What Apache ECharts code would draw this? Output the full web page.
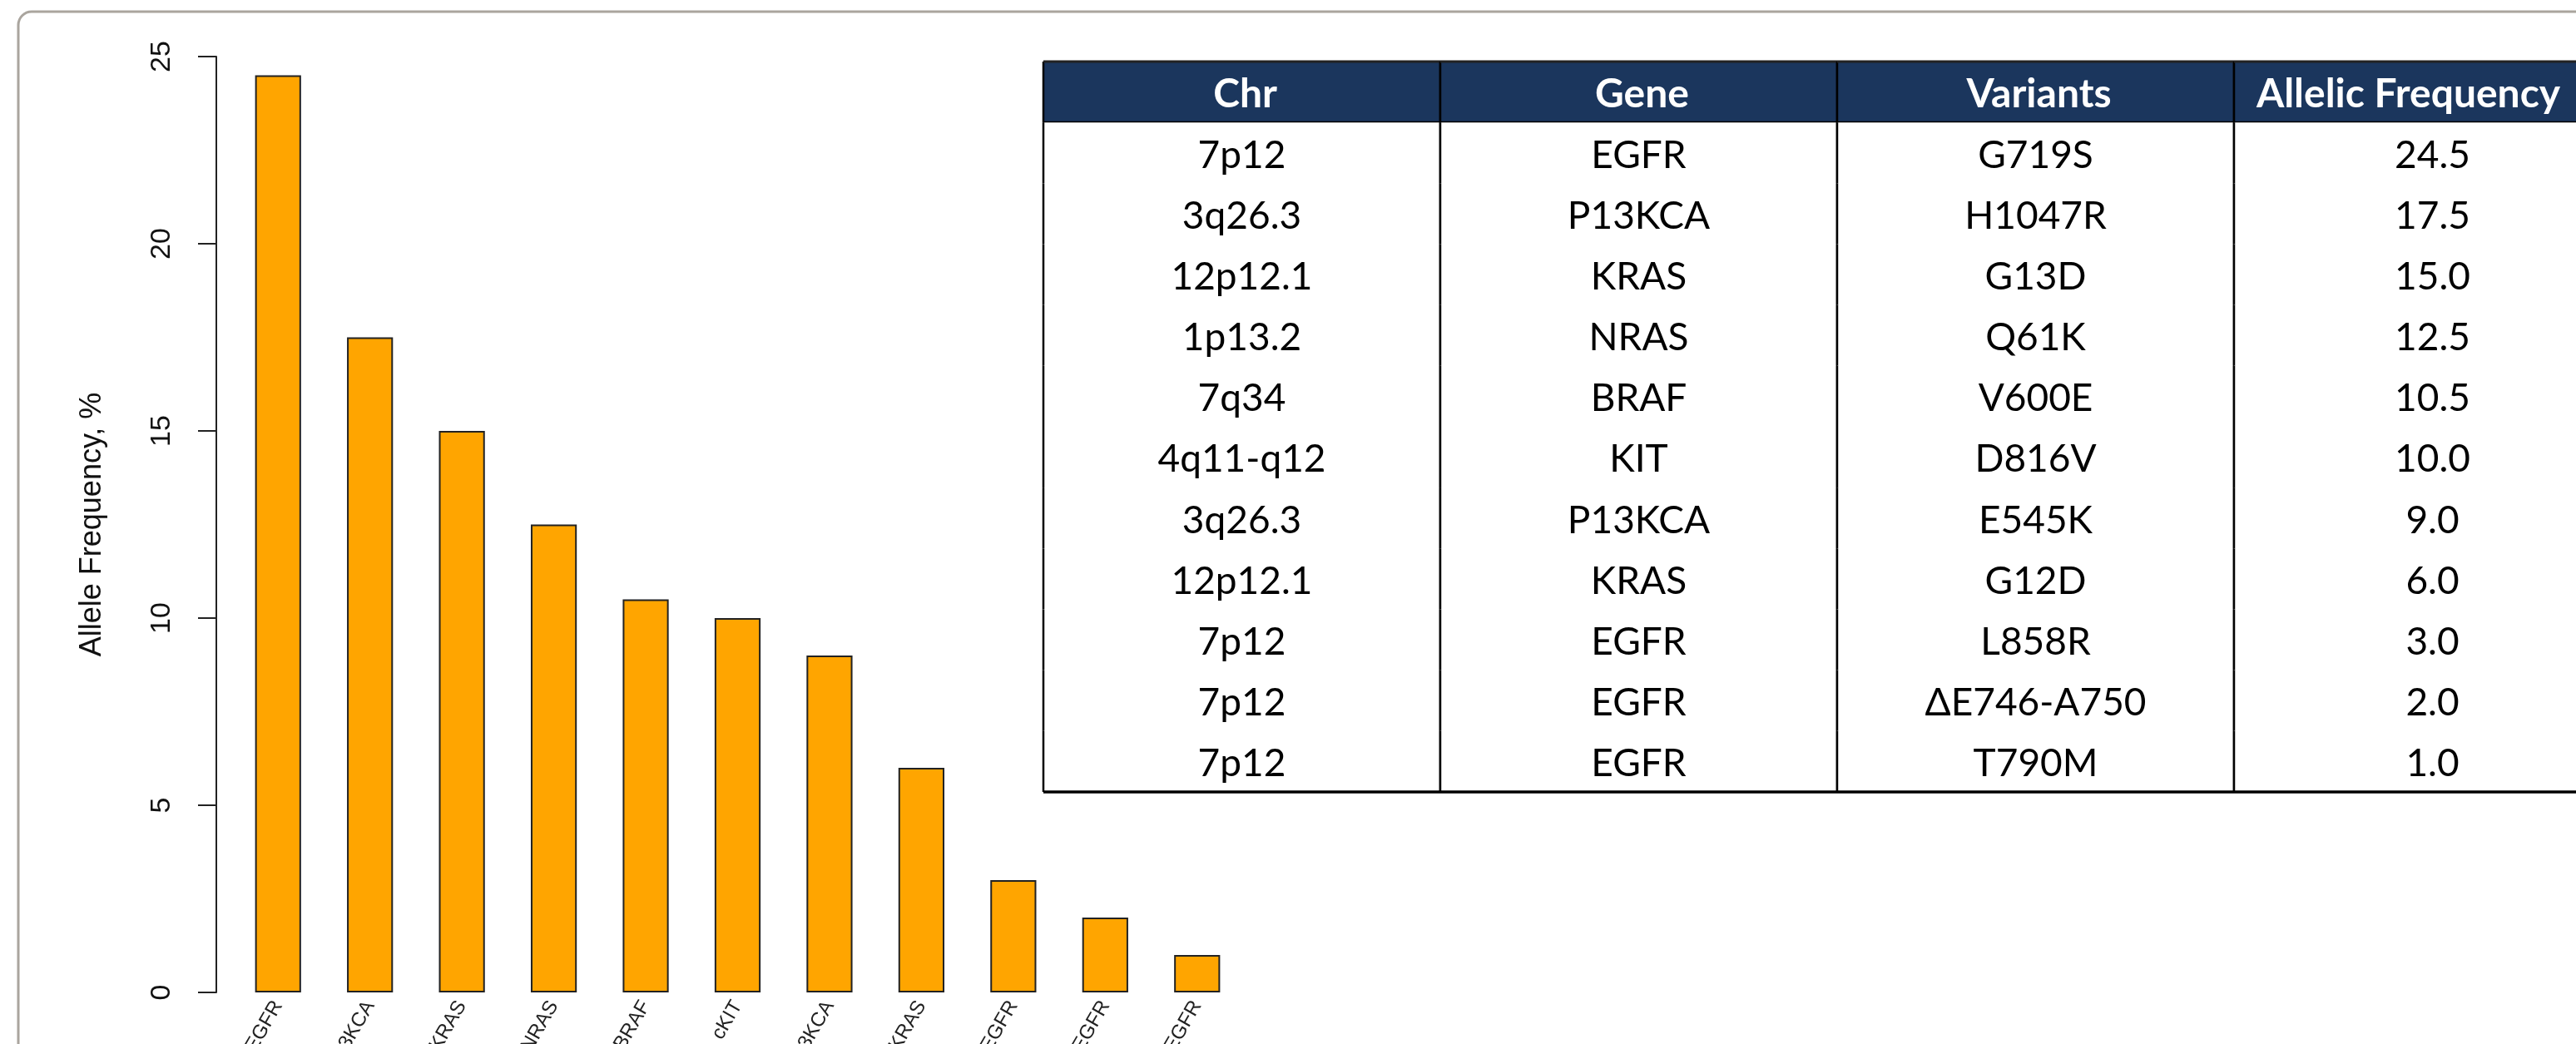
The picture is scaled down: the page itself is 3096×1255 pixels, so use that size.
<!DOCTYPE html>
<html>
<head>
<meta charset="utf-8">
<script src="https://cdn.jsdelivr.net/npm/echarts@6/dist/echarts.min.js"></script>
<style>
html,body{margin:0;padding:0;background:#fff;}
#chart{width:3096px;height:1255px;}
</style>
</head>
<body>
<div id="chart"></div>
<script>
// ---- data ----
const barLabels = ['EGFR','P13KCA','KRAS','NRAS','BRAF','cKIT','P13KCA','KRAS','EGFR','EGFR','EGFR'];
const freqs = [24.5, 17.5, 15.0, 12.5, 10.5, 10.0, 9.0, 6.0, 3.0, 2.0, 1.0];
const tableHeaders = ['Chr','Gene','Variants','Allelic Frequency'];
const chrs = ['7p12','3q26.3','12p12.1','1p13.2','7q34','4q11-q12','3q26.3','12p12.1','7p12','7p12','7p12'];
const genes = ['EGFR','P13KCA','KRAS','NRAS','BRAF','KIT','P13KCA','KRAS','EGFR','EGFR','EGFR'];
const variants = ['G719S','H1047R','G13D','Q61K','V600E','D816V','E545K','G12D','L858R','\u0394E746-A750','T790M'];
const yMin = 0, yMax = 25, yStep = 5;
const yTitle = 'Allele Frequency, %';

// ---- table cells built from the arrays ----
const tableCols = [chrs, genes, variants, freqs.map(v => v.toFixed(1))];
const nRows = chrs.length + 1;
const cellData = [], cellText = [];
tableHeaders.forEach((h, c) => { cellData.push([c, 0]); cellText.push(h); });
tableCols.forEach((col, c) => col.forEach((t, r) => { cellData.push([c, r + 1]); cellText.push(String(t)); }));

const chart = echarts.init(document.getElementById('chart'), null, {renderer: 'canvas'});

function renderCell(params, api) {
  const col = api.value(0), row = api.value(1);
  const c = api.coord([col, row]);
  const s = api.size([1, 1]);
  const w = s[0], h = s[1];
  const x0 = c[0] - w / 2, y0 = c[1] - h / 2, x1 = x0 + w, y1 = y0 + h;
  const header = row === 0;
  // header text is centred in the visible part of its cell
  const tx = header ? (x0 + Math.min(x1, api.getWidth())) / 2 + 4 : c[0];
  const children = [];
  children.push({type: 'rect', shape: {x: x0, y: y0, width: w, height: h},
    style: {fill: header ? '#1b365d' : '#ffffff'}});
  children.push({type: 'text', x: tx, y: c[1] + 3,
    style: {text: cellText[params.dataIndex], fill: header ? '#ffffff' : '#000000',
      fontFamily: 'Lato', fontSize: header ? 48 : 46, fontWeight: header ? 'bold' : 'normal',
      align: 'center', verticalAlign: 'middle'}});
  children.push({type: 'line', shape: {x1: x0, y1: y0, x2: x0, y2: y1}, style: {stroke: '#000', lineWidth: 2.5}});
  children.push({type: 'line', shape: {x1: x1, y1: y0, x2: x1, y2: y1}, style: {stroke: '#000', lineWidth: 2.5}});
  if (header) {
    children.push({type: 'line', shape: {x1: x0, y1: y0, x2: x1, y2: y0}, style: {stroke: '#222', lineWidth: 3}});
    children.push({type: 'line', shape: {x1: x0, y1: y1, x2: x1, y2: y1}, style: {stroke: '#000', lineWidth: 3}});
  }
  if (row === nRows - 1) {
    children.push({type: 'line', shape: {x1: x0, y1: y1, x2: x1, y2: y1}, style: {stroke: '#000', lineWidth: 3.5}});
  }
  return {type: 'group', children: children};
}

const option = {
  backgroundColor: '#ffffff',
  animation: false,
  graphic: [{
    type: 'rect', silent: true, z: 0,
    shape: {x: 22, y: 14, width: 3300, height: 1500, r: 16},
    style: {fill: 'none', stroke: '#aaa59e', lineWidth: 3}
  }],
  grid: [
    {left: 279, top: 68, width: 1215, height: 1125, containLabel: false, outerBoundsMode: 'none'},
    {left: 1254, top: 74, width: 1908, height: 878, containLabel: false, outerBoundsMode: 'none'}
  ],
  xAxis: [{
    type: 'category', gridIndex: 0, data: barLabels,
    axisLine: {show: false}, axisTick: {show: false},
    axisLabel: {interval: 0, rotate: 60, fontSize: 24, margin: 12, color: '#222', fontFamily: 'Liberation Sans'}
  }, {
    type: 'category', gridIndex: 1, data: tableHeaders, show: false
  }],
  yAxis: [{
    type: 'value', gridIndex: 0, min: yMin, max: yMax, interval: yStep, offset: 19,
    name: yTitle, nameLocation: 'middle', nameGap: 131,
    nameTextStyle: {fontSize: 36, color: '#111', fontFamily: 'Liberation Sans'},
    axisLine: {show: true, lineStyle: {color: '#222', width: 2}},
    axisTick: {show: true, length: 22, lineStyle: {color: '#222', width: 2}},
    axisLabel: {rotate: 90, fontSize: 34, margin: 48, color: '#111', fontFamily: 'Liberation Sans'},
    splitLine: {show: false}
  }, {
    type: 'category', gridIndex: 1, inverse: true,
    data: Array.from({length: nRows}, (_, i) => i), show: false
  }],
  series: [{
    type: 'bar', xAxisIndex: 0, yAxisIndex: 0, data: freqs, barWidth: '50%',
    itemStyle: {color: '#FFA500', borderColor: '#222', borderWidth: 2}
  }, {
    type: 'custom', xAxisIndex: 1, yAxisIndex: 1, coordinateSystem: 'cartesian2d',
    data: cellData, renderItem: renderCell, clip: false, z: 5
  }]
};
chart.setOption(option);
</script>
</body>
</html>
